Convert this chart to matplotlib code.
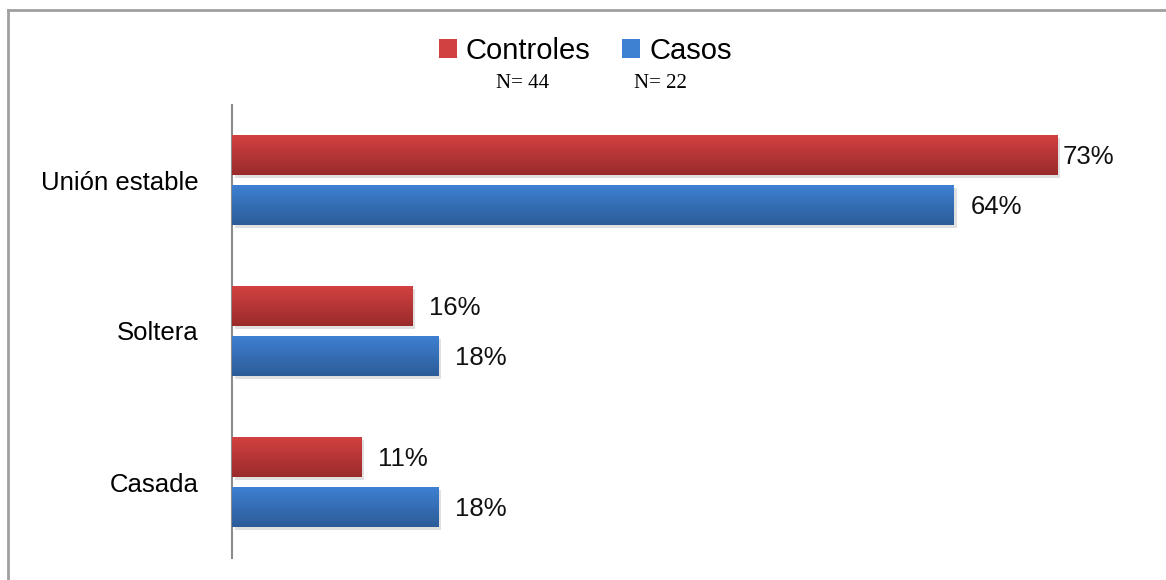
import matplotlib
matplotlib.use("Agg")
import matplotlib.pyplot as plt
import numpy as np
from matplotlib.colors import LinearSegmentedColormap
from matplotlib.patches import Patch
from matplotlib.lines import Line2D

categories = ["Unión estable", "Soltera", "Casada"]
controles = [72.7, 15.9, 11.4]
casos = [63.6, 18.2, 18.2]
labels_controles = ["73%", "16%", "11%"]
labels_casos = ["64%", "18%", "18%"]
series_names = ["Controles", "Casos"]
n_labels = ["N= 44", "N= 22"]

plt.rcParams['font.family'] = ['Liberation Sans', 'DejaVu Sans']

W, H = 1166, 580
fig = plt.figure(figsize=(W / 100, H / 100), dpi=100)
ax = fig.add_axes([232 / W, 1 - 557.5 / H, 908 / W, 453 / H])

y = np.arange(len(categories))
h = 40 / 151
off = 25 / 151

red_top, red_bot = "#d24141", "#9a2b2b"
blue_top, blue_bot = "#3e80d2", "#2c5c98"

bars_r = ax.barh(y - off, controles, height=h, color=red_top, zorder=2)
bars_b = ax.barh(y + off, casos, height=h, color=blue_top, zorder=2)


def gradient(bars, top, bot):
    cmap = LinearSegmentedColormap.from_list("g", [top, bot])
    grad = np.linspace(0, 1, 64).reshape(-1, 1)
    for b in bars:
        x0, y0 = b.get_x(), b.get_y()
        w, hh = b.get_width(), b.get_height()
        ax.add_patch(plt.Rectangle((x0 + 0.25, y0 + 0.02), w, hh, color="#000000",
                                   alpha=0.12, zorder=1, lw=0))
        ax.imshow(grad, cmap=cmap, aspect="auto", extent=(x0, x0 + w, y0 + hh, y0),
                  zorder=3, interpolation="bilinear")


gradient(bars_r, red_top, red_bot)
gradient(bars_b, blue_top, blue_bot)
ax.set_xlim(0, 80)
ax.set_ylim(len(categories) - 0.5, -0.5)

xmax = ax.get_xlim()[1]
for bars, labs in ((bars_r, labels_controles), (bars_b, labels_casos)):
    for b, lab in zip(bars, labs):
        # Excel-style: labels near the plot edge are tucked closer to the bar
        dx = 4 if b.get_width() > 0.85 * xmax else 12
        ax.annotate(lab, (b.get_width(), b.get_y() + b.get_height() / 2 + 0.012),
                    xytext=(dx, 0), textcoords="offset points", va="center", ha="left",
                    fontsize=18.5, color="#111111")

ax.set_yticks(y)
ax.set_yticklabels(categories, fontsize=18.5)
ax.tick_params(axis="y", length=0, pad=24)
ax.set_xticks([])
for s in ["top", "right", "bottom"]:
    ax.spines[s].set_visible(False)
ax.spines["left"].set_color("#8c8c8c")
ax.spines["left"].set_linewidth(1.5)

handles = [Patch(facecolor=red_top, edgecolor="none"), Patch(facecolor=blue_top, edgecolor="none")]
fig.legend(handles, series_names, loc="center", bbox_to_anchor=(585 / W, 1 - 51 / H),
           ncol=2, frameon=False, fontsize=21, handlelength=0.62, handleheight=0.62,
           handletextpad=0.3, columnspacing=1.1, borderpad=0)

fig.text(523 / W, 1 - 83 / H, n_labels[0], ha="center", va="center",
         fontsize=15, family=["Liberation Serif", "DejaVu Serif"])
fig.text(660 / W, 1 - 83 / H, n_labels[1], ha="center", va="center",
         fontsize=15, family=["Liberation Serif", "DejaVu Serif"])

# outer frame (top and left)
fig.add_artist(Line2D([8 / W, 1], [1 - 10 / H, 1 - 10 / H], color="#a0a0a0", lw=2,
                      transform=fig.transFigure))
fig.add_artist(Line2D([8 / W, 8 / W], [0, 1 - 10 / H], color="#a0a0a0", lw=2,
                      transform=fig.transFigure))

fig.savefig("out.png", dpi=100, facecolor="white")
